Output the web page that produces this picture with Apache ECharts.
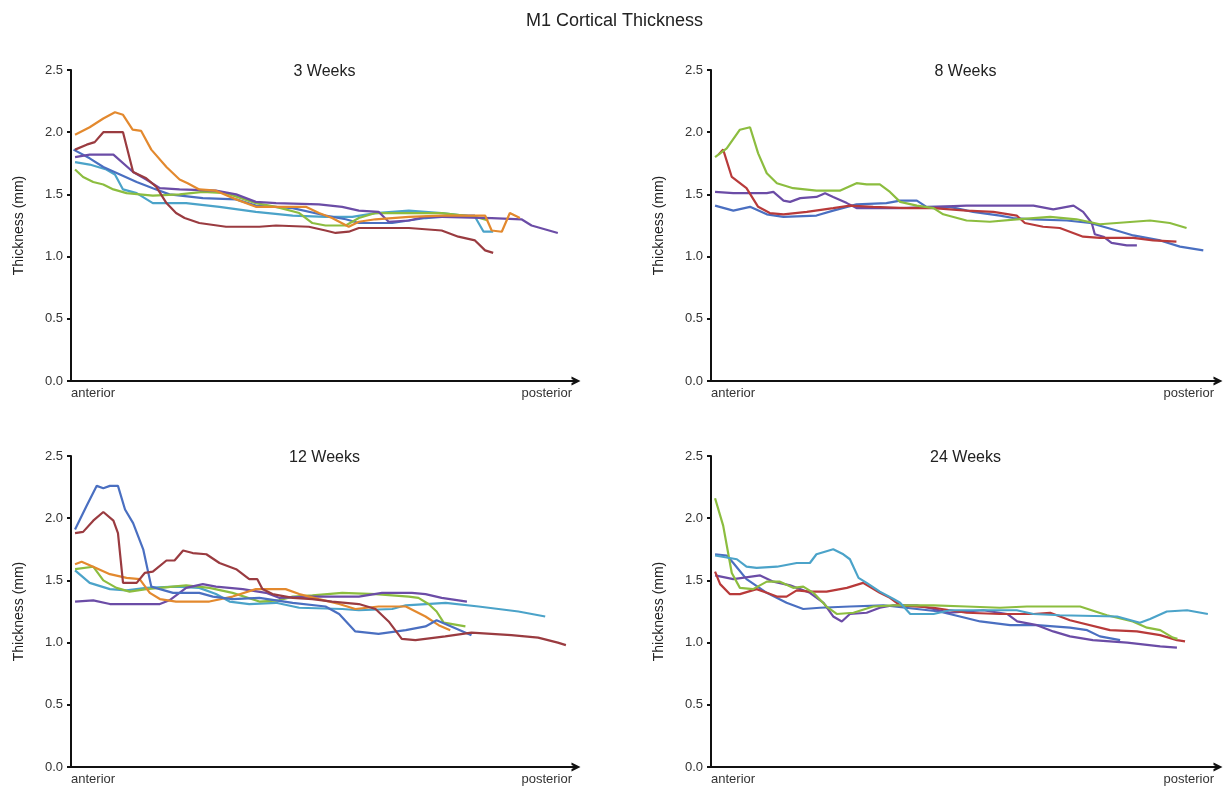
<!DOCTYPE html>
<html>
<head>
<meta charset="utf-8">
<title>M1 Cortical Thickness</title>
<script src="https://cdn.jsdelivr.net/npm/echarts@6/dist/echarts.min.js"></script>
<style>
  html, body { margin: 0; padding: 0; background: #fff; }
  #chart { width: 1229px; height: 790px; }
</style>
</head>
<body>
<div id="chart"></div>
<script>
// Position along the cortex (0 = anterior, 100 = posterior) and thickness in mm.
const chartTitle = 'M1 Cortical Thickness';
const panelTitles = ['3 Weeks', '8 Weeks', '12 Weeks', '24 Weeks'];
const axisEndLabels = ['anterior', 'posterior'];
const yAxisName = 'Thickness (mm)';

// ---- 3 weeks ----
const w3Orange = [[0.8,1.98],[1.1,1.99],[3.7,2.04],[6.4,2.11],[8.7,2.16],[10.3,2.14],[12.2,2.02],[13.9,2.01],[15.9,1.86],[18.9,1.72],[21.5,1.62],[23.1,1.59],[25.4,1.54],[28.7,1.53],[32.7,1.46],[36.6,1.40],[40.6,1.40],[46.5,1.40],[49.1,1.35],[51.7,1.31],[55.0,1.24],[57.0,1.28],[60.3,1.30],[66.9,1.32],[73.4,1.33],[82.0,1.33],[83.3,1.21],[85.3,1.20],[86.9,1.35],[88.9,1.31]];
const w3Red = [[0.8,1.86],[3.1,1.90],[4.7,1.92],[6.4,2.00],[10.3,2.00],[12.3,1.68],[14.9,1.63],[16.9,1.56],[18.9,1.43],[20.8,1.35],[22.5,1.31],[25.4,1.27],[30.7,1.24],[37.3,1.24],[40.6,1.25],[47.1,1.24],[50.4,1.21],[52.4,1.19],[55.0,1.20],[57.0,1.23],[63.6,1.23],[66.9,1.23],[73.4,1.21],[76.7,1.16],[80.0,1.13],[82.0,1.05],[83.6,1.03]];
const w3Purple = [[0.8,1.80],[3.7,1.82],[8.4,1.82],[12.3,1.68],[14.9,1.62],[17.6,1.55],[21.5,1.54],[28.7,1.53],[32.7,1.50],[36.6,1.44],[40.6,1.43],[49.1,1.42],[53.7,1.40],[57.0,1.37],[60.9,1.36],[62.9,1.28],[66.9,1.29],[70.2,1.32],[73.4,1.32],[83.3,1.31],[89.2,1.30],[91.2,1.25],[93.8,1.22],[96.4,1.19]];
const w3Blue = [[0.5,1.86],[3.7,1.79],[6.4,1.72],[9.7,1.66],[13.0,1.60],[16.2,1.55],[19.5,1.50],[26.1,1.47],[32.7,1.46],[36.6,1.41],[43.9,1.39],[50.4,1.33],[54.4,1.30],[57.0,1.27],[63.6,1.27],[70.2,1.31],[76.7,1.33],[80.0,1.33]];
const w3Teal = [[0.8,1.76],[3.7,1.74],[7.0,1.70],[8.7,1.66],[10.3,1.54],[13.0,1.51],[16.2,1.43],[22.8,1.43],[29.4,1.40],[36.6,1.36],[43.9,1.33],[50.4,1.32],[55.7,1.32],[60.3,1.35],[66.9,1.37],[73.4,1.35],[80.0,1.32],[81.7,1.20],[83.6,1.20]];
const w3Green = [[0.8,1.70],[2.4,1.64],[4.4,1.60],[6.4,1.58],[8.4,1.54],[11.0,1.51],[16.2,1.49],[21.5,1.50],[26.1,1.52],[30.7,1.51],[36.6,1.43],[40.6,1.40],[45.2,1.35],[47.8,1.27],[50.4,1.25],[54.4,1.25],[57.0,1.31],[60.3,1.35],[66.9,1.35],[73.4,1.35],[80.0,1.32],[82.6,1.29]];

// ---- 8 weeks ----
const w8Green = [[0.8,1.80],[3.1,1.87],[5.7,2.02],[7.7,2.04],[9.3,1.83],[11.0,1.67],[13.0,1.59],[16.2,1.55],[20.8,1.53],[25.4,1.53],[28.7,1.59],[30.7,1.58],[33.3,1.58],[35.3,1.52],[37.3,1.44],[40.6,1.41],[43.9,1.39],[45.8,1.34],[50.4,1.29],[55.0,1.28],[60.3,1.30],[66.9,1.32],[72.1,1.30],[76.7,1.26],[80.0,1.27],[86.6,1.29],[90.5,1.27],[93.8,1.23]];
const w8Red = [[1.5,1.82],[2.4,1.86],[4.1,1.64],[7.0,1.55],[9.3,1.40],[11.6,1.35],[14.3,1.34],[18.9,1.36],[24.1,1.39],[27.4,1.41],[32.0,1.40],[38.6,1.39],[43.9,1.39],[50.4,1.37],[55.7,1.36],[60.3,1.33],[61.9,1.27],[65.5,1.24],[68.8,1.23],[73.4,1.16],[76.7,1.15],[83.3,1.15],[87.2,1.13],[91.8,1.12]];
const w8Purple = [[0.8,1.52],[4.4,1.51],[11.0,1.51],[12.3,1.52],[14.3,1.45],[15.6,1.44],[17.6,1.47],[20.8,1.48],[22.5,1.51],[24.1,1.48],[26.8,1.43],[28.7,1.39],[37.3,1.39],[43.9,1.40],[50.4,1.41],[57.0,1.41],[63.6,1.41],[67.5,1.38],[71.5,1.41],[73.4,1.36],[75.1,1.27],[75.7,1.18],[77.4,1.16],[79.0,1.11],[82.0,1.09],[84.0,1.09]];
const w8Blue = [[0.8,1.41],[4.4,1.37],[7.7,1.40],[11.0,1.34],[14.3,1.32],[20.8,1.33],[24.1,1.37],[28.7,1.42],[34.6,1.43],[37.3,1.45],[40.6,1.45],[42.5,1.40],[47.1,1.40],[51.7,1.36],[57.0,1.33],[59.6,1.31],[63.6,1.30],[70.2,1.29],[74.8,1.27],[80.0,1.21],[83.3,1.17],[88.6,1.13],[92.5,1.08],[97.1,1.05]];

// ---- 12 weeks ----
const w12Blue = [[0.8,1.91],[3.1,2.10],[5.1,2.26],[6.4,2.24],[7.7,2.26],[9.3,2.26],[10.7,2.07],[12.3,1.96],[14.3,1.75],[15.9,1.45],[17.6,1.43],[20.2,1.40],[25.4,1.40],[28.1,1.37],[32.0,1.35],[37.3,1.36],[43.9,1.32],[50.4,1.29],[53.1,1.23],[56.3,1.09],[60.9,1.07],[66.3,1.10],[70.2,1.13],[72.4,1.18],[75.3,1.13],[79.3,1.06]];
const w12Purple = [[0.8,1.33],[4.4,1.34],[7.7,1.31],[17.6,1.31],[19.5,1.34],[22.8,1.44],[26.1,1.47],[28.7,1.45],[34.0,1.43],[38.6,1.40],[41.2,1.36],[47.1,1.37],[57.0,1.37],[61.6,1.40],[67.5,1.40],[70.2,1.39],[73.4,1.36],[78.4,1.33]];
const w12Red = [[0.8,1.88],[2.4,1.89],[4.4,1.98],[6.4,2.05],[8.4,1.98],[9.3,1.88],[10.3,1.48],[13.0,1.48],[14.6,1.56],[16.2,1.57],[18.9,1.66],[20.5,1.66],[22.2,1.74],[24.1,1.72],[26.8,1.71],[29.4,1.64],[32.7,1.59],[35.3,1.51],[36.9,1.51],[37.9,1.43],[39.9,1.39],[43.9,1.36],[47.8,1.35],[51.7,1.33],[57.0,1.31],[60.3,1.27],[62.9,1.17],[65.5,1.03],[68.2,1.02],[74.1,1.05],[79.3,1.08],[87.2,1.06],[92.5,1.04],[96.4,1.00],[98.0,0.98]];
const w12Orange = [[0.8,1.63],[2.1,1.65],[4.4,1.61],[7.7,1.55],[11.0,1.52],[13.6,1.51],[15.6,1.40],[17.6,1.35],[20.8,1.33],[27.4,1.33],[32.0,1.37],[36.6,1.43],[42.5,1.43],[45.2,1.39],[49.1,1.35],[53.1,1.31],[56.3,1.27],[60.9,1.29],[66.3,1.29],[70.2,1.21],[72.8,1.14],[75.1,1.10]];
const w12Green = [[0.8,1.59],[4.4,1.61],[6.4,1.50],[9.0,1.44],[11.6,1.41],[14.9,1.43],[17.6,1.44],[22.8,1.46],[27.4,1.44],[32.0,1.40],[37.3,1.33],[41.2,1.34],[43.9,1.37],[47.8,1.38],[53.7,1.40],[60.3,1.39],[66.9,1.37],[68.8,1.36],[70.8,1.31],[72.4,1.25],[73.8,1.16],[78.1,1.13]];
const w12Teal = [[0.8,1.58],[3.7,1.48],[7.7,1.43],[11.0,1.42],[14.9,1.44],[20.8,1.45],[25.4,1.44],[28.7,1.39],[31.4,1.33],[35.3,1.31],[40.6,1.32],[45.2,1.28],[53.7,1.27],[57.0,1.26],[63.6,1.27],[66.3,1.30],[74.2,1.32],[80.7,1.29],[88.6,1.25],[93.9,1.21]];

// ---- 24 weeks ----
const w24Green = [[0.8,2.16],[2.4,1.94],[4.1,1.56],[5.7,1.44],[8.3,1.43],[11.0,1.49],[13.6,1.49],[16.2,1.44],[18.2,1.45],[20.2,1.40],[22.8,1.29],[24.8,1.23],[28.1,1.24],[32.0,1.29],[36.0,1.30],[43.9,1.30],[50.4,1.29],[57.0,1.28],[62.3,1.29],[72.8,1.29],[78.1,1.22],[83.2,1.17],[86.0,1.12],[88.6,1.10],[91.1,1.04],[92.0,1.03]];
const w24Teal = [[0.8,1.70],[5.1,1.67],[7.0,1.61],[9.0,1.60],[13.0,1.61],[16.9,1.64],[19.5,1.64],[20.8,1.71],[24.1,1.75],[26.1,1.71],[27.4,1.67],[29.1,1.52],[30.7,1.48],[33.3,1.41],[36.0,1.35],[37.3,1.32],[39.3,1.23],[43.9,1.23],[47.1,1.26],[53.7,1.26],[60.3,1.26],[63.6,1.23],[68.8,1.22],[80.1,1.21],[84.6,1.16],[86.6,1.19],[89.9,1.25],[93.9,1.26],[98.0,1.23]];
const w24Blue = [[0.8,1.71],[3.1,1.70],[4.4,1.64],[7.0,1.51],[11.0,1.40],[14.9,1.32],[18.2,1.27],[21.5,1.28],[27.4,1.29],[34.0,1.30],[40.6,1.27],[45.0,1.25],[49.1,1.21],[53.1,1.17],[59.0,1.14],[64.3,1.14],[70.8,1.12],[74.2,1.10],[76.7,1.05],[80.7,1.02]];
const w24Red = [[0.8,1.57],[1.8,1.47],[3.7,1.39],[5.7,1.39],[9.0,1.43],[11.0,1.40],[13.0,1.37],[14.9,1.37],[16.9,1.42],[19.5,1.41],[22.8,1.41],[26.8,1.44],[30.0,1.48],[33.3,1.40],[35.3,1.36],[37.3,1.30],[43.9,1.28],[50.4,1.24],[57.0,1.23],[63.6,1.23],[66.9,1.24],[70.8,1.18],[78.7,1.10],[84.0,1.09],[88.6,1.06],[91.9,1.02],[93.5,1.01]];
const w24Purple = [[0.8,1.54],[4.4,1.51],[9.7,1.54],[12.3,1.49],[15.6,1.46],[19.5,1.40],[22.2,1.32],[24.1,1.21],[25.8,1.17],[27.4,1.23],[30.7,1.24],[33.3,1.28],[36.0,1.30],[40.6,1.30],[43.9,1.27],[47.1,1.24],[53.7,1.26],[58.4,1.23],[60.4,1.17],[64.3,1.14],[67.5,1.09],[70.8,1.05],[75.3,1.02],[82.1,1.00],[88.6,0.97],[91.9,0.96]];

// Line colours
const C = {
  orange: '#e3892e',
  maroon: '#9a3b40',
  red: '#b83a3a',
  purple: '#6b4ca6',
  blue: '#4a6fc1',
  teal: '#4ba3c9',
  green: '#8cbd3f'
};

const panels = [
  { lines: [[w3Teal, C.teal], [w3Blue, C.blue], [w3Green, C.green], [w3Purple, C.purple], [w3Red, C.maroon], [w3Orange, C.orange]] },
  { lines: [[w8Blue, C.blue], [w8Purple, C.purple], [w8Red, C.red], [w8Green, C.green]] },
  { lines: [[w12Teal, C.teal], [w12Green, C.green], [w12Purple, C.purple], [w12Orange, C.orange], [w12Blue, C.blue], [w12Red, C.maroon]] },
  { lines: [[w24Blue, C.blue], [w24Purple, C.purple], [w24Red, C.red], [w24Green, C.green], [w24Teal, C.teal]] }
];

// Grid boxes for the 2x2 layout
const boxes = [
  { left: 71, top: 70, width: 505, height: 311 },
  { left: 711, top: 70, width: 507, height: 311 },
  { left: 71, top: 456, width: 505, height: 311 },
  { left: 711, top: 456, width: 507, height: 311 }
];

// Open chevron used as the axis arrowhead (points up; ECharts rotates it onto the axis)
const chevron = 'path://M0,10 L5,0 L10,10 L7.2,10 L5,5.4 L2.8,10 Z';

const font = 'Liberation Sans, Arial, Helvetica, sans-serif';
const chart = echarts.init(document.getElementById('chart'), null, { renderer: 'canvas' });

const titles = [{
  text: chartTitle, left: 'center', top: 7,
  textStyle: { fontFamily: font, fontSize: 18, fontWeight: 'normal', color: '#222' }
}];
panelTitles.forEach((t, i) => {
  const b = boxes[i];
  titles.push({
    text: t, left: b.left + b.width / 2 - 4, top: b.top - 11, textAlign: 'center',
    textStyle: { fontFamily: font, fontSize: 16, fontWeight: 'normal', color: '#222' }
  });
});

const grids = boxes.map(b => ({ left: b.left, top: b.top, width: b.width, height: b.height, containLabel: false }));

const xAxes = boxes.map((b, i) => ({
  type: 'value', gridIndex: i, min: 0, max: 100, interval: 100,
  axisLine: { show: true, onZero: false, symbol: ['none', chevron], symbolSize: [9, 9], symbolOffset: [0, 0], lineStyle: { color: '#111', width: 2 } },
  axisTick: { show: false },
  splitLine: { show: false },
  axisLabel: {
    show: true, margin: 6, color: '#333', fontFamily: font, fontSize: 13,
    alignMinLabel: 'left', alignMaxLabel: 'right', padding: [0, 4, 0, 0],
    formatter: v => v === 0 ? axisEndLabels[0] : (v === 100 ? axisEndLabels[1] : '')
  }
}));

const yAxes = boxes.map((b, i) => ({
  type: 'value', gridIndex: i, min: 0, max: 2.5, interval: 0.5,
  name: yAxisName, nameLocation: 'middle', nameGap: 45, nameRotate: 90,
  nameTextStyle: { fontFamily: font, fontSize: 14, color: '#222' },
  axisLine: { show: true, lineStyle: { color: '#111', width: 2 } },
  axisTick: { show: true, length: 4, lineStyle: { color: '#111', width: 2 } },
  splitLine: { show: false },
  axisLabel: { margin: 8, color: '#333', fontFamily: font, fontSize: 13, formatter: v => v.toFixed(1) }
}));

const series = [];
panels.forEach((p, i) => {
  p.lines.forEach(([data, color]) => {
    series.push({
      type: 'line', xAxisIndex: i, yAxisIndex: i, data: data,
      showSymbol: false, symbol: 'none', smooth: false, silent: true,
      lineStyle: { color: color, width: 2.2 },
      animation: false
    });
  });
});

chart.setOption({
  backgroundColor: '#fff',
  animation: false,
  title: titles,
  grid: grids,
  xAxis: xAxes,
  yAxis: yAxes,
  series: series
});
</script>
</body>
</html>
